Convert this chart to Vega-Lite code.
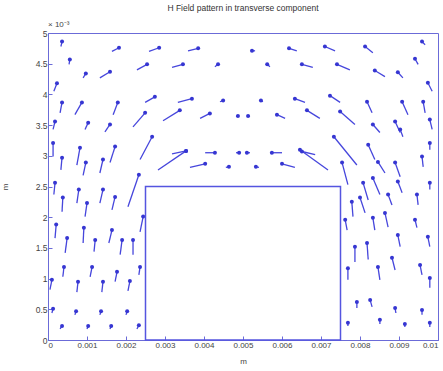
{
  "$schema": "https://vega.github.io/schema/vega-lite/v6.json",
  "width": 390,
  "height": 307,
  "autosize": {"type": "none"},
  "padding": {"left": 48, "top": 33, "right": 5, "bottom": 31},
  "background": "white",
  "title": {"text": "H Field pattern in transverse component", "fontSize": 8.5, "font": "Liberation Sans", "fontWeight": "normal", "color": "#333333", "offset": 9},
  "config": {
    "view": {"stroke": "#6b6bd8", "strokeWidth": 1},
    "axis": {"grid": false, "labelFont": "Liberation Sans", "labelFontSize": 8.5, "labelColor": "#444444", "labelOverlap": false, "titleFont": "Liberation Sans", "titleFontSize": 8, "titleFontWeight": "normal", "titleColor": "#444444", "domainColor": "#6b6bd8", "tickColor": "#6b6bd8", "tickSize": -4, "labelPadding": 5}
  },
  "datasets": {
    "arrows": [
      {"x":0.33,"y":4.78,"x2":0.36,"y2":4.86},
      {"x":1.64,"y":4.70,"x2":1.82,"y2":4.76},
      {"x":2.59,"y":4.70,"x2":2.85,"y2":4.76},
      {"x":3.59,"y":4.71,"x2":3.85,"y2":4.75},
      {"x":0.54,"y":4.49,"x2":0.56,"y2":4.57},
      {"x":0.90,"y":4.27,"x2":0.97,"y2":4.34},
      {"x":1.33,"y":4.27,"x2":1.59,"y2":4.37},
      {"x":2.28,"y":4.40,"x2":2.54,"y2":4.49},
      {"x":3.18,"y":4.44,"x2":3.46,"y2":4.49},
      {"x":4.28,"y":4.45,"x2":4.36,"y2":4.49},
      {"x":0.15,"y":4.05,"x2":0.23,"y2":4.18},
      {"x":0.31,"y":3.70,"x2":0.36,"y2":3.87},
      {"x":0.69,"y":3.67,"x2":0.87,"y2":3.87},
      {"x":1.67,"y":3.67,"x2":1.79,"y2":3.87},
      {"x":2.18,"y":3.47,"x2":2.49,"y2":3.70},
      {"x":2.49,"y":3.87,"x2":2.74,"y2":3.96},
      {"x":3.33,"y":3.87,"x2":3.69,"y2":3.93},
      {"x":4.41,"y":3.88,"x2":4.49,"y2":3.90},
      {"x":2.95,"y":3.57,"x2":3.38,"y2":3.74},
      {"x":3.90,"y":3.61,"x2":4.15,"y2":3.69},
      {"x":4.82,"y":3.64,"x2":4.87,"y2":3.65},
      {"x":0.13,"y":3.43,"x2":0.18,"y2":3.56},
      {"x":0.95,"y":3.43,"x2":1.03,"y2":3.54},
      {"x":1.46,"y":3.39,"x2":1.59,"y2":3.51},
      {"x":2.82,"y":2.77,"x2":3.54,"y2":3.08},
      {"x":3.18,"y":3.03,"x2":3.54,"y2":3.08},
      {"x":4.03,"y":3.05,"x2":4.28,"y2":3.05},
      {"x":3.64,"y":2.81,"x2":4.03,"y2":2.87},
      {"x":4.56,"y":2.81,"x2":4.64,"y2":2.82},
      {"x":4.82,"y":3.05,"x2":4.90,"y2":3.05},
      {"x":0.13,"y":2.99,"x2":0.13,"y2":3.21},
      {"x":0.33,"y":2.77,"x2":0.36,"y2":2.97},
      {"x":0.74,"y":2.85,"x2":0.82,"y2":3.13},
      {"x":0.90,"y":2.68,"x2":0.97,"y2":2.89},
      {"x":1.33,"y":2.72,"x2":1.41,"y2":2.94},
      {"x":1.59,"y":2.89,"x2":1.72,"y2":3.15},
      {"x":2.36,"y":2.94,"x2":2.67,"y2":3.31},
      {"x":2.05,"y":2.17,"x2":2.33,"y2":2.69},
      {"x":0.36,"y":2.09,"x2":0.38,"y2":2.32},
      {"x":0.74,"y":2.23,"x2":0.79,"y2":2.45},
      {"x":0.95,"y":2.01,"x2":1.00,"y2":2.23},
      {"x":1.33,"y":2.23,"x2":1.41,"y2":2.45},
      {"x":1.64,"y":2.12,"x2":1.72,"y2":2.33},
      {"x":0.18,"y":1.66,"x2":0.21,"y2":1.88},
      {"x":0.44,"y":1.42,"x2":0.49,"y2":1.66},
      {"x":0.90,"y":1.58,"x2":0.92,"y2":1.83},
      {"x":1.18,"y":1.44,"x2":1.21,"y2":1.63},
      {"x":1.56,"y":1.58,"x2":1.64,"y2":1.79},
      {"x":1.85,"y":1.39,"x2":1.90,"y2":1.63},
      {"x":2.18,"y":1.39,"x2":2.18,"y2":1.63},
      {"x":2.36,"y":1.76,"x2":2.44,"y2":2.01},
      {"x":0.05,"y":0.82,"x2":0.10,"y2":0.98},
      {"x":0.38,"y":1.03,"x2":0.41,"y2":1.19},
      {"x":0.74,"y":0.78,"x2":0.77,"y2":0.95},
      {"x":1.08,"y":1.03,"x2":1.13,"y2":1.19},
      {"x":1.38,"y":0.78,"x2":1.41,"y2":0.95},
      {"x":1.72,"y":0.95,"x2":1.77,"y2":1.11},
      {"x":2.05,"y":0.80,"x2":2.10,"y2":0.96},
      {"x":2.33,"y":1.06,"x2":2.36,"y2":1.19},
      {"x":0.10,"y":0.44,"x2":0.13,"y2":0.51},
      {"x":0.69,"y":0.41,"x2":0.72,"y2":0.47},
      {"x":1.33,"y":0.41,"x2":1.36,"y2":0.47},
      {"x":2.00,"y":0.41,"x2":2.03,"y2":0.47},
      {"x":0.31,"y":0.18,"x2":0.36,"y2":0.23},
      {"x":1.00,"y":0.18,"x2":1.03,"y2":0.23},
      {"x":1.59,"y":0.18,"x2":1.62,"y2":0.23},
      {"x":2.28,"y":0.18,"x2":2.33,"y2":0.24},
      {"x":0.15,"y":2.37,"x2":0.18,"y2":2.56},
      {"x":5.31,"y":4.71,"x2":5.23,"y2":4.71},
      {"x":6.38,"y":4.71,"x2":6.18,"y2":4.75},
      {"x":7.36,"y":4.71,"x2":7.10,"y2":4.78},
      {"x":5.69,"y":4.45,"x2":5.62,"y2":4.49},
      {"x":6.79,"y":4.44,"x2":6.51,"y2":4.49},
      {"x":5.51,"y":3.88,"x2":5.46,"y2":3.90},
      {"x":6.59,"y":3.87,"x2":6.33,"y2":3.93},
      {"x":7.49,"y":3.87,"x2":7.23,"y2":3.98},
      {"x":5.18,"y":3.64,"x2":5.13,"y2":3.65},
      {"x":6.08,"y":3.61,"x2":5.87,"y2":3.67},
      {"x":6.97,"y":3.61,"x2":6.64,"y2":3.74},
      {"x":5.18,"y":3.05,"x2":5.10,"y2":3.05},
      {"x":6.00,"y":3.05,"x2":5.74,"y2":3.05},
      {"x":7.18,"y":2.77,"x2":6.46,"y2":3.10},
      {"x":6.85,"y":3.02,"x2":6.51,"y2":3.07},
      {"x":5.41,"y":2.81,"x2":5.33,"y2":2.82},
      {"x":6.33,"y":2.81,"x2":6.00,"y2":2.87},
      {"x":8.33,"y":4.68,"x2":8.13,"y2":4.78},
      {"x":9.67,"y":4.81,"x2":9.59,"y2":4.86},
      {"x":7.74,"y":4.40,"x2":7.41,"y2":4.49},
      {"x":8.64,"y":4.29,"x2":8.38,"y2":4.39},
      {"x":9.10,"y":4.27,"x2":8.97,"y2":4.36},
      {"x":9.49,"y":4.49,"x2":9.41,"y2":4.58},
      {"x":9.85,"y":4.05,"x2":9.74,"y2":4.19},
      {"x":8.31,"y":3.70,"x2":8.18,"y2":3.88},
      {"x":9.23,"y":3.67,"x2":9.08,"y2":3.88},
      {"x":9.67,"y":3.70,"x2":9.62,"y2":3.88},
      {"x":7.87,"y":3.51,"x2":7.49,"y2":3.72},
      {"x":8.51,"y":3.38,"x2":8.33,"y2":3.51},
      {"x":9.03,"y":3.38,"x2":8.90,"y2":3.56},
      {"x":9.85,"y":3.43,"x2":9.79,"y2":3.59},
      {"x":7.92,"y":2.85,"x2":7.33,"y2":3.31},
      {"x":7.69,"y":2.53,"x2":7.54,"y2":2.89},
      {"x":8.38,"y":2.94,"x2":8.21,"y2":3.18},
      {"x":8.64,"y":2.72,"x2":8.46,"y2":2.90},
      {"x":9.03,"y":2.66,"x2":8.90,"y2":2.89},
      {"x":9.10,"y":3.31,"x2":9.03,"y2":3.43},
      {"x":9.62,"y":2.82,"x2":9.59,"y2":2.99},
      {"x":9.79,"y":3.10,"x2":9.79,"y2":3.21},
      {"x":8.21,"y":2.28,"x2":8.08,"y2":2.56},
      {"x":8.51,"y":2.37,"x2":8.33,"y2":2.64},
      {"x":8.82,"y":2.20,"x2":8.72,"y2":2.37},
      {"x":9.08,"y":2.40,"x2":8.97,"y2":2.58},
      {"x":9.49,"y":2.20,"x2":9.46,"y2":2.37},
      {"x":9.79,"y":2.45,"x2":9.79,"y2":2.56},
      {"x":7.82,"y":2.01,"x2":7.79,"y2":2.25},
      {"x":8.13,"y":2.07,"x2":8.00,"y2":2.32},
      {"x":8.38,"y":1.79,"x2":8.33,"y2":1.99},
      {"x":8.72,"y":1.84,"x2":8.64,"y2":2.07},
      {"x":7.67,"y":1.79,"x2":7.62,"y2":1.96},
      {"x":9.46,"y":1.83,"x2":9.41,"y2":1.96},
      {"x":7.87,"y":1.27,"x2":7.87,"y2":1.52},
      {"x":8.21,"y":1.31,"x2":8.18,"y2":1.58},
      {"x":9.03,"y":1.52,"x2":8.97,"y2":1.71},
      {"x":9.79,"y":1.52,"x2":9.74,"y2":1.68},
      {"x":7.69,"y":0.98,"x2":7.69,"y2":1.17},
      {"x":8.51,"y":0.98,"x2":8.46,"y2":1.19},
      {"x":8.90,"y":1.14,"x2":8.82,"y2":1.34},
      {"x":9.59,"y":1.06,"x2":9.54,"y2":1.22},
      {"x":9.79,"y":0.85,"x2":9.79,"y2":1.01},
      {"x":7.92,"y":0.52,"x2":7.92,"y2":0.62},
      {"x":8.31,"y":0.54,"x2":8.26,"y2":0.65},
      {"x":8.92,"y":0.44,"x2":8.90,"y2":0.52},
      {"x":9.59,"y":0.41,"x2":9.59,"y2":0.49},
      {"x":7.69,"y":0.23,"x2":7.69,"y2":0.28},
      {"x":8.51,"y":0.26,"x2":8.51,"y2":0.33},
      {"x":9.15,"y":0.21,"x2":9.15,"y2":0.26},
      {"x":9.79,"y":0.21,"x2":9.79,"y2":0.28}
    ]
  },
  "layer": [
    {
      "data": {"name": "arrows"},
      "mark": {"type": "rule", "color": "#4646dc", "strokeWidth": 1.3},
      "encoding": {
        "x": {"field": "x", "type": "quantitative", "scale": {"domain": [0, 10], "nice": false, "zero": false},
              "axis": {"title": "m", "values": [0,1,2,3,4,5,6,7,8,9,10], "labelOverlap": false, "labelFontSize": 8, "labelExpr": "datum.value == 0 ? '0' : format(datum.value / 1000, '~g')", "titlePadding": 8}},
        "y": {"field": "y", "type": "quantitative", "scale": {"domain": [0, 5], "nice": false},
              "axis": {"title": "m", "values": [0,0.5,1,1.5,2,2.5,3,3.5,4,4.5,5], "labelOverlap": false, "format": "~g", "titlePadding": 26}},
        "x2": {"field": "x2"},
        "y2": {"field": "y2"}
      }
    },
    {
      "data": {"name": "arrows"},
      "mark": {"type": "point", "filled": true, "shape": "circle", "size": 16, "color": "#3636d2", "opacity": 1},
      "encoding": {
        "x": {"field": "x2", "type": "quantitative",
              "axis": {"title": "m", "values": [0,1,2,3,4,5,6,7,8,9,10], "labelOverlap": false, "labelFontSize": 8, "labelExpr": "datum.value == 0 ? '0' : format(datum.value / 1000, '~g')", "titlePadding": 8}},
        "y": {"field": "y2", "type": "quantitative",
              "axis": {"title": "m", "values": [0,0.5,1,1.5,2,2.5,3,3.5,4,4.5,5], "labelOverlap": false, "format": "~g", "titlePadding": 26}}
      }
    },
    {
      "data": {"values": [{"x": 2.5, "x2": 7.5, "y": 0, "y2": 2.5}]},
      "mark": {"type": "rect", "fillOpacity": 0, "stroke": "#5555e0", "strokeWidth": 1.5},
      "encoding": {
        "x": {"field": "x", "type": "quantitative",
              "axis": {"title": "m", "values": [0,1,2,3,4,5,6,7,8,9,10], "labelOverlap": false, "labelFontSize": 8, "labelExpr": "datum.value == 0 ? '0' : format(datum.value / 1000, '~g')", "titlePadding": 8}},
        "x2": {"field": "x2"},
        "y": {"field": "y", "type": "quantitative",
              "axis": {"title": "m", "values": [0,0.5,1,1.5,2,2.5,3,3.5,4,4.5,5], "labelOverlap": false, "format": "~g", "titlePadding": 26}},
        "y2": {"field": "y2"}
      }
    },
    {
      "data": {"values": [{"label": "× 10⁻³"}]},
      "mark": {"type": "text", "align": "left", "baseline": "bottom", "dy": -4, "fontSize": 8, "font": "Liberation Sans", "color": "#444444"},
      "encoding": {
        "x": {"datum": 0,
              "axis": {"title": "m", "values": [0,1,2,3,4,5,6,7,8,9,10], "labelOverlap": false, "labelFontSize": 8, "labelExpr": "datum.value == 0 ? '0' : format(datum.value / 1000, '~g')", "titlePadding": 8}},
        "y": {"datum": 5,
              "axis": {"title": "m", "values": [0,0.5,1,1.5,2,2.5,3,3.5,4,4.5,5], "labelOverlap": false, "format": "~g", "titlePadding": 26}},
        "text": {"field": "label"}
      }
    }
  ]
}
